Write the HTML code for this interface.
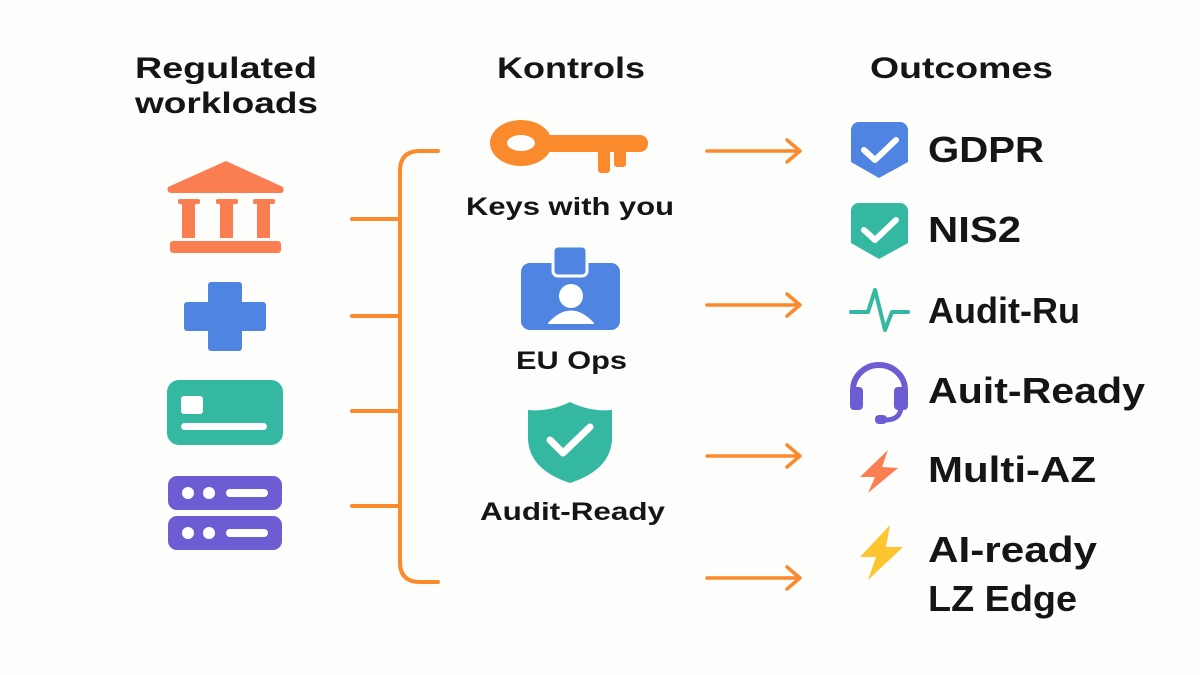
<!DOCTYPE html>
<html><head><meta charset="utf-8"><style>
html,body{margin:0;padding:0;background:#fdfdfc;}
svg{display:block}
text{font-family:"Liberation Sans",sans-serif;font-weight:bold;fill:#151515;}
</style></head><body>
<svg width="1200" height="675" viewBox="0 0 1200 675" xmlns="http://www.w3.org/2000/svg">
<rect width="1200" height="675" fill="#fdfdfc"/>
<!-- headers -->
<text x="135" y="78" font-size="30" textLength="182" lengthAdjust="spacingAndGlyphs">Regulated</text>
<text x="135" y="113" font-size="30" textLength="183" lengthAdjust="spacingAndGlyphs">workloads</text>
<text x="497" y="78" font-size="30" textLength="148" lengthAdjust="spacingAndGlyphs">Kontrols</text>
<text x="870" y="78" font-size="30" textLength="183" lengthAdjust="spacingAndGlyphs">Outcomes</text>

<!-- building -->
<g fill="#fb7d52">
<path d="M226 161 L283 187 Q285 193 280 193 L172 193 Q166 193 168 187 Z"/>
<rect x="178" y="199" width="22" height="5" rx="2"/><rect x="182" y="200" width="13" height="38"/>
<rect x="216" y="199" width="22" height="5" rx="2"/><rect x="220" y="200" width="13" height="38"/>
<rect x="253" y="199" width="22" height="5" rx="2"/><rect x="257" y="200" width="13" height="38"/>
<rect x="170" y="241" width="111" height="12" rx="3"/>
</g>
<!-- cross -->
<path d="M211 282 h28 a3 3 0 0 1 3 3 v17 h21 a3 3 0 0 1 3 3 v23 a3 3 0 0 1 -3 3 h-21 v17 a3 3 0 0 1 -3 3 h-28 a3 3 0 0 1 -3 -3 v-17 h-21 a3 3 0 0 1 -3 -3 v-23 a3 3 0 0 1 3 -3 h21 v-17 a3 3 0 0 1 3 -3 z" fill="#4f84e3"/>
<!-- card -->
<rect x="167" y="380" width="116" height="65" rx="12" fill="#35b8a2"/>
<rect x="181" y="396" width="22" height="18" rx="3" fill="#fff"/>
<rect x="181" y="423" width="86" height="7" rx="3.5" fill="#fff"/>
<!-- server -->
<g fill="#6c5ed2">
<rect x="168" y="476" width="114" height="34" rx="9"/>
<rect x="168" y="516" width="114" height="34" rx="9"/>
</g>
<g fill="#fff">
<circle cx="188" cy="493" r="6"/><circle cx="209" cy="493" r="6"/><rect x="226" y="489" width="42" height="8" rx="4"/>
<circle cx="188" cy="533" r="6"/><circle cx="209" cy="533" r="6"/><rect x="226" y="529" width="42" height="8" rx="4"/>
</g>

<!-- bracket -->
<g stroke="#fb8a2c" stroke-width="4" fill="none" stroke-linecap="round">
<path d="M438 151 L420 151 Q400 151 400 171 L400 562 Q400 582 420 582 L438 582"/>
<line x1="352" y1="219" x2="400" y2="219"/>
<line x1="352" y1="316" x2="400" y2="316"/>
<line x1="352" y1="411" x2="400" y2="411"/>
<line x1="352" y1="506" x2="400" y2="506"/>
</g>

<!-- key -->
<g fill="#fb8a2c">
<ellipse cx="521" cy="143" rx="31" ry="23"/>
<rect x="540" y="135" width="108" height="17" rx="8"/>
<rect x="598" y="140" width="12" height="33" rx="3"/>
<rect x="614" y="140" width="12" height="27" rx="3"/>
</g>
<ellipse cx="521" cy="143" rx="14" ry="8" fill="#fdfdfc"/>
<text x="466" y="215" font-size="25" textLength="208" lengthAdjust="spacingAndGlyphs">Keys with you</text>
<!-- badge -->
<rect x="521" y="263" width="99" height="67" rx="9" fill="#4f84e3"/>
<rect x="553" y="246" width="34" height="30" rx="5" fill="#4f84e3" stroke="#fdfdfc" stroke-width="3"/>
<circle cx="571" cy="296" r="12" fill="#fff"/>
<path d="M548 323 Q571 298 594 323 L594 324 L548 324 Z" fill="#fff"/>
<text x="516" y="369" font-size="25" textLength="111" lengthAdjust="spacingAndGlyphs">EU Ops</text>
<!-- shield -->
<path d="M570 402 Q550 412 528 410 L528 440 Q530 470 570 483 Q610 470 612 440 L612 410 Q590 412 570 402 Z" fill="#35b8a2"/>
<path d="M550 440 L563 453 L590 427" stroke="#fff" stroke-width="7" fill="none" stroke-linecap="round" stroke-linejoin="round"/>
<text x="480" y="520" font-size="25" textLength="185" lengthAdjust="spacingAndGlyphs">Audit-Ready</text>

<!-- arrows -->
<g stroke="#fb8a2c" stroke-width="3.5" fill="none" stroke-linecap="round" stroke-linejoin="round">
<path d="M707 151 H799 M787 140 L800 151 L787 162"/>
<path d="M707 305 H799 M787 294 L800 305 L787 316"/>
<path d="M707 456 H799 M787 445 L800 456 L787 467"/>
<path d="M707 578 H799 M787 567 L800 578 L787 589"/>
</g>

<!-- outcomes icons -->
<path d="M858 122 H900 a8 8 0 0 1 8 8 V162 L879 178 L851 162 V130 a8 8 0 0 1 7 -8 Z" fill="#4f84e3"/>
<path d="M864 150 L875 160 L896 140" stroke="#fff" stroke-width="6" fill="none" stroke-linecap="round" stroke-linejoin="round"/>
<path d="M858 203 H900 a8 8 0 0 1 8 8 V243 L879 259 L851 243 V211 a8 8 0 0 1 7 -8 Z" fill="#35b8a2"/>
<path d="M864 230 L875 240 L896 220" stroke="#fff" stroke-width="6" fill="none" stroke-linecap="round" stroke-linejoin="round"/>
<path d="M851 312 H868 L875 290 L885 330 L892 312 H908" stroke="#35b8a2" stroke-width="4" fill="none" stroke-linecap="round" stroke-linejoin="round"/>
<path d="M853 398 V390 A26 25 0 0 1 905 390 V398" stroke="#6c5ed2" stroke-width="6" fill="none"/>
<rect x="850" y="387" width="13" height="23" rx="4" fill="#6c5ed2"/>
<rect x="894" y="387" width="14" height="23" rx="4" fill="#6c5ed2"/>
<path d="M901 406 Q901 420 885 420 L880 420" stroke="#6c5ed2" stroke-width="5" fill="none" stroke-linecap="round"/>
<rect x="875" y="415" width="12" height="9" rx="4" fill="#6c5ed2"/>
<path d="M888 450 L860 477 L875 477 L868 493 L898 468 L882 467 Z" fill="#fb7d52"/>
<path d="M890 525 L860 557 L876 557 L868 580 L903 547 L886 547 Z" fill="#fdc630"/>

<text x="928" y="162" font-size="36" textLength="116" lengthAdjust="spacingAndGlyphs">GDPR</text>
<text x="928" y="242" font-size="36" textLength="93" lengthAdjust="spacingAndGlyphs">NIS2</text>
<text x="928" y="323" font-size="36" textLength="152" lengthAdjust="spacingAndGlyphs">Audit-Ru</text>
<text x="928" y="403" font-size="36" textLength="217" lengthAdjust="spacingAndGlyphs">Auit-Ready</text>
<text x="928" y="482" font-size="36" textLength="168" lengthAdjust="spacingAndGlyphs">Multi-AZ</text>
<text x="928" y="562" font-size="36" textLength="169" lengthAdjust="spacingAndGlyphs">AI-ready</text>
<text x="928" y="611" font-size="36" textLength="149" lengthAdjust="spacingAndGlyphs">LZ Edge</text>
</svg>
</body></html>
